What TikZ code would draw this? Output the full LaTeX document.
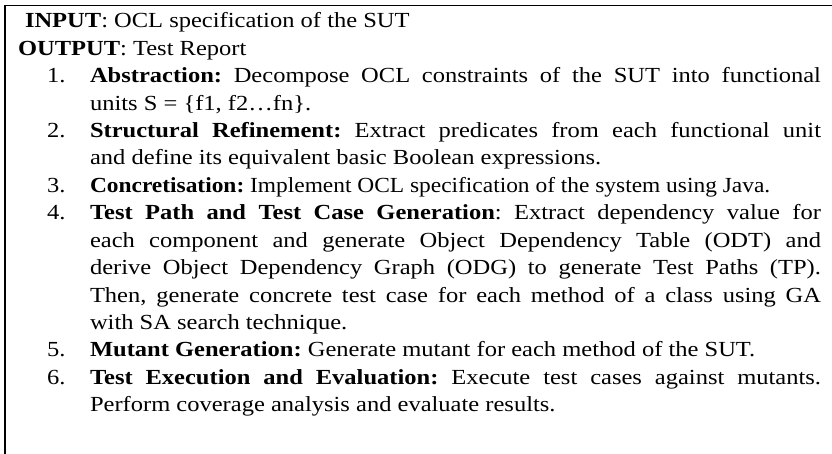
\documentclass[tikz,border=0pt]{standalone}
\usepackage{fontspec}
\setmainfont{Liberation Serif}[FakeStretch=1.14]
\newcommand{\jline}[1]{\makebox[731pt][s]{#1}}
\begin{document}
\frenchspacing
\begin{tikzpicture}[x=1pt,y=-1pt,
  ln/.style={anchor=base west, inner sep=0pt, outer sep=0pt, font=\fontsize{21.5}{26}\selectfont},
  frame/.style={line width=1.6pt, black}]
\useasboundingbox (0,0) rectangle (832,454);
\draw[frame] (5,454) -- (5,5.5) -- (832,5.5);
\def\p{27.4}
\node[ln] (in)  at (25,28) {\textbf{INPUT}: OCL specification of the SUT};
\node[ln] (out) at (18,28+\p) {\textbf{OUTPUT}: Test Report};
\node[ln] (n1) at (47,28+2*\p) {1.};
\node[ln] (l1a) at (90,28+2*\p) {\jline{\textbf{Abstraction:} Decompose OCL constraints of the SUT into functional}};
\node[ln] (l1b) at (90,28+3*\p) {units S = \{f1, f2…fn\}.};
\node[ln] (n2) at (47,28+4*\p) {2.};
\node[ln] (l2a) at (90,28+4*\p) {\jline{\textbf{Structural Refinement:} Extract predicates from each functional unit}};
\node[ln] (l2b) at (90,28+5*\p) {and define its equivalent basic Boolean expressions.};
\node[ln] (n3) at (47,28+6*\p) {3.};
\node[ln] (l3a) at (90,28+6*\p) {\scalebox{0.955}[1]{\textbf{Concretisation:} Implement OCL specification of the system using Java.}};
\node[ln] (n4) at (47,28+7*\p) {4.};
\node[ln] (l4a) at (90,28+7*\p) {\jline{\textbf{Test Path and Test Case Generation}: Extract dependency value for}};
\node[ln] (l4b) at (90,28+8*\p) {\jline{each component and generate Object Dependency Table (ODT) and}};
\node[ln] (l4c) at (90,28+9*\p) {\jline{derive Object Dependency Graph (ODG) to generate Test Paths (TP).}};
\node[ln] (l4d) at (90,28+10*\p) {\jline{Then, generate concrete test case for each method of a class using GA}};
\node[ln] (l4e) at (90,28+11*\p) {with SA search technique.};
\node[ln] (n5) at (47,28+12*\p) {5.};
\node[ln] (l5a) at (90,28+12*\p) {\textbf{Mutant Generation:} Generate mutant for each method of the SUT.};
\node[ln] (n6) at (47,28+13*\p) {6.};
\node[ln] (l6a) at (90,28+13*\p) {\jline{\textbf{Test Execution and Evaluation:} Execute test cases against mutants.}};
\node[ln] (l6b) at (90,28+14*\p) {Perform coverage analysis and evaluate results.};
\end{tikzpicture}
\end{document}
